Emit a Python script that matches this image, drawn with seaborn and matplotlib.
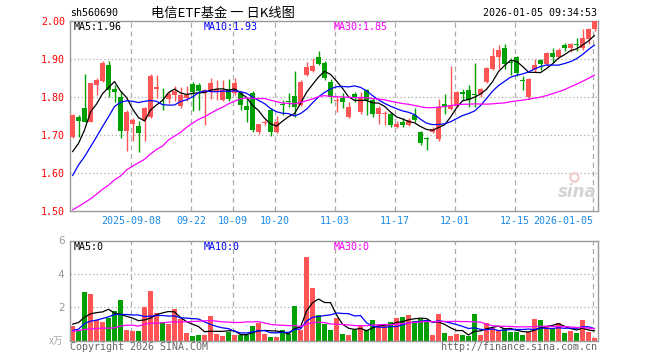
import numpy as np
import pandas as pd
import matplotlib
matplotlib.use('Agg')
import matplotlib.pyplot as plt
import seaborn as sns

# daily bars, 2025-08-25 .. 2026-01-05 (88 sessions)
opens = [1.696, 1.748, 1.770, 1.735, 1.832, 1.843, 1.884, 1.820, 1.800, 1.711,
         1.729, 1.724, 1.739, 1.747, 1.822, 1.801, 1.794, 1.805, 1.777, 1.798,
         1.833, 1.832, 1.810, 1.814, 1.816, 1.792, 1.821, 1.810, 1.810, 1.777,
         1.810, 1.707, 1.732, 1.766, 1.709, 1.782, 1.789, 1.803, 1.779, 1.858,
         1.868, 1.904, 1.889, 1.840, 1.790, 1.797, 1.748, 1.808, 1.761, 1.818,
         1.792, 1.754, 1.756, 1.755, 1.722, 1.735, 1.726, 1.753, 1.707, 1.691,
         1.707, 1.690, 1.781, 1.768, 1.777, 1.812, 1.818, 1.808, 1.808, 1.840,
         1.875, 1.904, 1.928, 1.893, 1.906, 1.844, 1.801, 1.871, 1.897, 1.886,
         1.915, 1.904, 1.937, 1.930, 1.940, 1.928, 1.953, 1.979]
highs = [1.755, 1.752, 1.860, 1.838, 1.849, 1.895, 1.896, 1.832, 1.815, 1.766,
         1.745, 1.737, 1.775, 1.861, 1.857, 1.825, 1.814, 1.830, 1.827, 1.830,
         1.840, 1.838, 1.822, 1.849, 1.845, 1.845, 1.847, 1.849, 1.815, 1.797,
         1.815, 1.730, 1.740, 1.770, 1.750, 1.792, 1.810, 1.868, 1.845, 1.893,
         1.902, 1.922, 1.894, 1.847, 1.801, 1.810, 1.786, 1.814, 1.814, 1.822,
         1.797, 1.776, 1.762, 1.761, 1.737, 1.744, 1.744, 1.770, 1.711, 1.696,
         1.722, 1.796, 1.808, 1.882, 1.815, 1.822, 1.832, 1.889, 1.825, 1.880,
         1.928, 1.937, 1.939, 1.902, 1.909, 1.854, 1.849, 1.900, 1.900, 1.919,
         1.928, 1.928, 1.941, 1.941, 1.954, 1.979, 1.981, 2.000]
lows = [1.693, 1.695, 1.733, 1.733, 1.805, 1.840, 1.800, 1.788, 1.692, 1.659,
        1.685, 1.656, 1.685, 1.744, 1.797, 1.766, 1.783, 1.790, 1.772, 1.790,
        1.763, 1.765, 1.726, 1.796, 1.792, 1.790, 1.790, 1.806, 1.766, 1.735,
        1.708, 1.702, 1.726, 1.698, 1.704, 1.753, 1.775, 1.748, 1.776, 1.855,
        1.866, 1.883, 1.846, 1.783, 1.761, 1.772, 1.745, 1.788, 1.754, 1.753,
        1.748, 1.728, 1.726, 1.722, 1.718, 1.722, 1.724, 1.735, 1.674, 1.661,
        1.704, 1.683, 1.754, 1.765, 1.774, 1.792, 1.775, 1.775, 1.799, 1.836,
        1.872, 1.875, 1.875, 1.858, 1.856, 1.818, 1.796, 1.866, 1.871, 1.882,
        1.893, 1.902, 1.921, 1.918, 1.921, 1.925, 1.939, 1.974]
closes = [1.753, 1.738, 1.735, 1.836, 1.845, 1.890, 1.818, 1.814, 1.711, 1.761,
          1.739, 1.704, 1.770, 1.855, 1.827, 1.799, 1.807, 1.816, 1.805, 1.806,
          1.814, 1.815, 1.818, 1.836, 1.821, 1.818, 1.796, 1.836, 1.779, 1.766,
          1.713, 1.728, 1.734, 1.707, 1.735, 1.778, 1.787, 1.775, 1.840, 1.880,
          1.882, 1.886, 1.849, 1.801, 1.792, 1.786, 1.775, 1.801, 1.801, 1.792,
          1.754, 1.772, 1.758, 1.726, 1.728, 1.727, 1.739, 1.740, 1.678, 1.689,
          1.716, 1.775, 1.776, 1.779, 1.812, 1.808, 1.792, 1.806, 1.821, 1.875,
          1.908, 1.924, 1.886, 1.889, 1.862, 1.842, 1.847, 1.884, 1.886, 1.915,
          1.904, 1.924, 1.928, 1.939, 1.938, 1.954, 1.979, 2.000]
volumes = [0.88, 0.56, 2.91, 2.79, 1.22, 1.10, 1.34, 1.77, 2.43, 0.62,
           0.56, 0.56, 2.01, 2.97, 1.64, 1.10, 0.98, 1.89, 1.28, 0.44,
           0.26, 0.32, 0.32, 1.46, 0.38, 0.26, 0.50, 0.32, 0.32, 0.32,
           0.88, 1.08, 0.42, 0.22, 0.22, 0.66, 0.42, 2.06, 0.66, 5.02,
           3.17, 1.53, 1.02, 0.62, 1.34, 0.38, 0.32, 0.66, 0.92, 0.66,
           1.22, 0.92, 0.86, 1.10, 1.34, 1.40, 1.52, 1.16, 1.28, 1.22,
           0.32, 1.58, 0.44, 0.26, 0.38, 0.32, 0.26, 1.58, 0.32, 1.04,
           0.74, 0.62, 0.74, 0.50, 0.50, 0.32, 0.50, 1.28, 1.22, 0.86,
           0.68, 1.04, 0.44, 0.56, 0.44, 1.22, 0.50, 0.16]

# moving-average values before enough bars are inside the window
ma5_head = [1.656, 1.678, 1.713, 1.761]
ma10_head = [1.593, 1.621, 1.643, 1.669, 1.695, 1.722, 1.748, 1.775, 1.786]
ma30_head = [1.503, 1.512, 1.522, 1.532, 1.544, 1.557, 1.568, 1.582, 1.592, 1.608,
             1.618, 1.627, 1.636, 1.650, 1.662, 1.671, 1.687, 1.697, 1.707, 1.720,
             1.731, 1.741, 1.748, 1.757, 1.766, 1.773, 1.782, 1.789, 1.795]
vma5_head = [0.98, 1.08, 1.40, 1.60]
vma10_head = [0.60, 0.68, 1.02, 1.16, 1.22, 1.32, 1.42, 1.56, 1.56]
vma30_head = [0.56, 0.60, 0.66, 0.70, 0.72, 0.74, 0.74, 0.76, 0.86, 0.92,
              0.92, 0.86, 0.98, 1.04, 1.04, 1.06, 1.10, 1.12, 1.12, 1.12,
              1.14, 1.16, 1.18, 1.20, 1.16, 1.12, 1.10, 1.08, 1.08]

tick_idx = [10, 20, 27, 34, 44, 54, 64, 74, 87]
tick_labels = ['2025-09-08', '09-22', '10-09', '10-20', '11-03',
               '11-17', '12-01', '12-15', '2026-01-05']

RED = '#ff5555'
GREEN = '#00a000'
GRID = '#aaaaaa'
FRAME = '#999999'
MONO = 'DejaVu Sans Mono'

sns.set_style('white')
plt.rcParams['font.family'] = ['DejaVu Sans Mono', 'Noto Sans CJK SC']


def moving(values, n, head):
    s = pd.Series(values).rolling(n).mean()
    s.iloc[:len(head)] = head
    return s.values


df = pd.DataFrame({'open': opens, 'high': highs, 'low': lows,
                   'close': closes, 'vol': volumes})
df['i'] = np.arange(len(df))
df['ma5'] = moving(closes, 5, ma5_head)
df['ma10'] = moving(closes, 10, ma10_head)
df['ma30'] = moving(closes, 30, ma30_head)
df['vma5'] = moving(volumes, 5, vma5_head)
df['vma10'] = moving(volumes, 10, vma10_head)
df['vma30'] = moving(volumes, 30, vma30_head)
colors = [RED if c >= o else GREEN for o, c in zip(opens, closes)]

fig = plt.figure(figsize=(6.6, 3.6), dpi=100)
ax = fig.add_axes([70 / 660, 1 - 211 / 360, 528 / 660, 190 / 360])
axv = fig.add_axes([70 / 660, 1 - 340.5 / 360, 528 / 660, 100 / 360])
xmin = -0.42
xmax = xmin + 88

for a in (ax, axv):
    a.set_xlim(xmin, xmax)
    for sp in a.spines.values():
        sp.set_color(FRAME)
        sp.set_linewidth(1.0)
    a.set_xticks([])
    for t in tick_idx:
        a.axvline(t - 0.25, color=GRID, ls=(0, (4, 3)), lw=0.9, zorder=0)

# price panel
ax.set_ylim(1.50, 2.00)
for y in [1.6, 1.7, 1.8, 1.9]:
    ax.axhline(y, color=GRID, ls=(0, (1, 2)), lw=0.9, zorder=0)
ax.vlines(df['i'], df['low'], df['high'], colors=colors, lw=1.0, zorder=2)
body = (df['close'] - df['open']).abs().clip(lower=0.0015)
ax.bar(df['i'], body, bottom=df[['open', 'close']].min(axis=1), width=0.8,
       color=colors, linewidth=0, zorder=3)
sns.lineplot(data=df, x='i', y='ma5', ax=ax, color='black', lw=0.9, zorder=4)
sns.lineplot(data=df, x='i', y='ma10', ax=ax, color='#0000ff', lw=0.9, zorder=4)
sns.lineplot(data=df, x='i', y='ma30', ax=ax, color='#ff00ff', lw=0.9, zorder=4)
ax.set_xlabel('')
ax.set_ylabel('')
ax.set_yticks([1.5, 1.6, 1.7, 1.8, 1.9, 2.0])
ax.set_yticklabels(['%.2f' % v for v in [1.5, 1.6, 1.7, 1.8, 1.9, 2.0]],
                   color='red', fontsize=7.2, family=MONO)
ax.tick_params(axis='y', length=0, pad=3.5)

for t, lab in zip(tick_idx, tick_labels):
    ha = 'right' if t == tick_idx[-1] else 'center'
    ax.annotate(lab, xy=(t - 0.25, 0), xycoords=('data', 'axes fraction'),
                xytext=(0, -7.5), textcoords='offset points', ha=ha, va='center',
                color='#1a8ae6', fontsize=7.2, family=MONO)

ax.text(4 / 528, 1 - 6 / 190, 'MA5:%.2f' % df['ma5'].iloc[-1], transform=ax.transAxes,
        ha='left', va='center', fontsize=7.2, family=MONO, color='black')
ax.text(134 / 528, 1 - 6 / 190, 'MA10:%.2f' % (int(df['ma10'].iloc[-1] * 100) / 100),
        transform=ax.transAxes, ha='left', va='center', fontsize=7.2, family=MONO,
        color='#0000ff')
ax.text(264 / 528, 1 - 6 / 190, 'MA30:%.2f' % (int(df['ma30'].iloc[-1] * 100) / 100),
        transform=ax.transAxes, ha='left', va='center', fontsize=7.2, family=MONO,
        color='#ff00ff')
# sina watermark
ax.text(0.997, 0.1, 'sina', transform=ax.transAxes, ha='right', va='center',
        fontsize=12, fontweight='bold', style='italic', color='#d4d4d4',
        family='DejaVu Sans', zorder=1)
ax.plot([0.955], [0.18], transform=ax.transAxes, marker='o', ms=6, mfc='none',
        mec='#f0c8c8', mew=1.5, zorder=1)

# volume panel
axv.set_ylim(0, 6)
for y in [2, 4]:
    axv.axhline(y, color=GRID, ls=(0, (1, 2)), lw=0.9, zorder=0)
axv.bar(df['i'], df['vol'], width=0.82, color=colors, linewidth=0, zorder=2)
sns.lineplot(data=df, x='i', y='vma5', ax=axv, color='black', lw=0.9, zorder=4)
sns.lineplot(data=df, x='i', y='vma10', ax=axv, color='#0000ff', lw=0.9, zorder=4)
sns.lineplot(data=df, x='i', y='vma30', ax=axv, color='#ff00ff', lw=0.9, zorder=4)
axv.set_xlabel('')
axv.set_ylabel('')
axv.set_yticks([2, 4, 6])
axv.set_yticklabels(['2', '4', '6'], color='#999999', fontsize=7.5, family='DejaVu Sans')
axv.tick_params(axis='y', length=0, pad=4)
axv.text(4 / 528, 1 - 6 / 100, 'MA5:0', transform=axv.transAxes, ha='left', va='center',
         fontsize=7.2, family=MONO, color='black')
axv.text(134 / 528, 1 - 6 / 100, 'MA10:0', transform=axv.transAxes, ha='left', va='center',
         fontsize=7.2, family=MONO, color='#0000ff')
axv.text(264 / 528, 1 - 6 / 100, 'MA30:0', transform=axv.transAxes, ha='left', va='center',
         fontsize=7.2, family=MONO, color='#ff00ff')

# header and footer
fig.text(70 / 660, 1 - 13 / 360, 'sh560690', ha='left', va='center', fontsize=7.2,
         family=MONO, color='black')
fig.text(223 / 660, 1 - 13 / 360, '电信ETF基金 一 日K线图', ha='center', va='center',
         fontsize=9.5, family=['Noto Sans CJK SC', 'DejaVu Sans'], color='black')
fig.text(597 / 660, 1 - 13 / 360, '2026-01-05 09:34:53', ha='right', va='center',
         fontsize=7.2, family=MONO, color='black')
fig.text(63 / 660, 1 - 341 / 360, 'x万', ha='right', va='center', fontsize=7,
         family=['Noto Sans CJK SC', 'DejaVu Sans'], color='#aaaaaa')
fig.text(70 / 660, 1 - 347 / 360, 'Copyright 2026 SINA.COM', ha='left', va='center',
         fontsize=7.2, family=MONO, color='#666666')
fig.text(597 / 660, 1 - 347 / 360, 'http://finance.sina.com.cn', ha='right', va='center',
         fontsize=7.2, family=MONO, color='#666666')

fig.savefig('out.png', dpi=100, facecolor='white')
